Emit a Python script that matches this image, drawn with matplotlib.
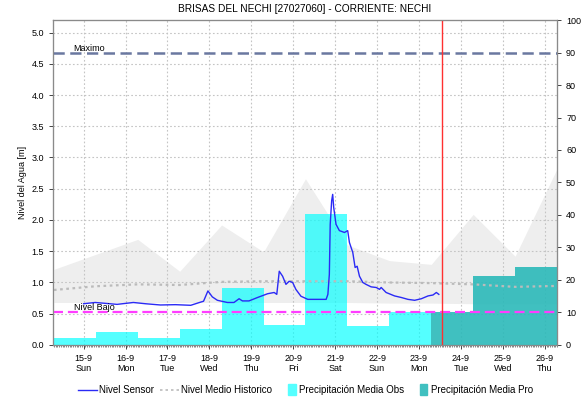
import matplotlib
matplotlib.use("Agg")
import matplotlib.pyplot as plt
import matplotlib.dates as mdates
from matplotlib.patches import Rectangle
from matplotlib.lines import Line2D
from matplotlib.legend_handler import HandlerPatch
import pandas as pd

plt.rcParams['font.family'] = ['Liberation Sans', 'DejaVu Sans']

title = "BRISAS DEL NECHI [27027060] - CORRIENTE: NECHI"

# Sensor water level (m)
sensor_time = [
    "2024-09-15 00:00", "2024-09-15 06:40", "2024-09-15 19:10", "2024-09-16 04:30",
    "2024-09-16 11:25", "2024-09-16 20:00", "2024-09-17 04:35", "2024-09-17 13:20",
    "2024-09-17 18:20", "2024-09-17 20:40", "2024-09-17 23:10", "2024-09-18 01:40",
    "2024-09-18 04:35", "2024-09-18 10:20", "2024-09-18 14:05", "2024-09-18 17:00",
    "2024-09-18 18:55", "2024-09-18 22:40", "2024-09-19 03:35", "2024-09-19 09:20",
    "2024-09-19 13:05", "2024-09-19 14:35", "2024-09-19 16:00", "2024-09-19 17:55",
    "2024-09-19 19:50", "2024-09-19 21:40", "2024-09-19 23:40", "2024-09-20 01:30",
    "2024-09-20 04:25", "2024-09-20 08:20", "2024-09-20 14:00", "2024-09-20 18:50",
    "2024-09-20 19:50", "2024-09-20 20:40", "2024-09-20 21:10", "2024-09-20 22:00",
    "2024-09-20 22:35", "2024-09-20 23:10", "2024-09-21 00:30", "2024-09-21 02:25",
    "2024-09-21 05:20", "2024-09-21 07:10", "2024-09-21 08:10", "2024-09-21 10:05",
    "2024-09-21 11:25", "2024-09-21 12:35", "2024-09-21 13:55", "2024-09-21 15:50",
    "2024-09-21 17:40", "2024-09-21 20:35", "2024-09-21 23:30", "2024-09-22 01:25",
    "2024-09-22 02:20", "2024-09-22 05:10", "2024-09-22 10:00", "2024-09-22 13:50",
    "2024-09-22 17:40", "2024-09-22 21:30", "2024-09-23 01:20", "2024-09-23 05:10",
    "2024-09-23 08:00", "2024-09-23 09:55", "2024-09-23 11:20",
]
sensor_level = [
    0.66, 0.68, 0.65, 0.68,
    0.66, 0.64, 0.645, 0.635,
    0.68, 0.70, 0.865, 0.77,
    0.715, 0.68, 0.68, 0.74,
    0.705, 0.705, 0.76, 0.82,
    0.84, 0.81, 1.18, 1.10,
    0.97, 1.02, 1.00, 0.89,
    0.78, 0.73, 0.73, 0.73,
    0.81, 1.13, 1.93, 2.31,
    2.41, 2.20, 1.93, 1.83,
    1.80, 1.83, 1.64, 1.48,
    1.24, 1.26, 1.10, 1.00,
    0.97, 0.93, 0.92, 0.89,
    0.92, 0.84, 0.785, 0.76,
    0.73, 0.715, 0.74, 0.785,
    0.80, 0.84, 0.81,
]

# Daily historical statistics (07:00 each day)
hist_time = pd.date_range("2024-09-14 07:00", "2024-09-26 07:00", freq="D")
hist_mean = [0.88, 0.94, 0.97, 0.96, 1.01, 1.02, 1.02, 1.02, 1.00, 0.99, 0.97, 0.93, 0.945]
hist_max = [1.21, 1.45, 1.69, 1.18, 1.92, 1.49, 2.66, 1.60, 1.35, 1.29, 2.09, 1.42, 2.82]
hist_min = [0.68, 0.68, 0.68, 0.68, 0.68, 0.68, 0.68, 0.68, 0.67, 0.67, 0.66, 0.66, 0.66]

# Daily precipitation (mm), observed and forecast, each day from 07:00
obs_start = pd.date_range("2024-09-13 07:00", periods=10, freq="D")
obs_precip = [11.0, 2.2, 4.0, 2.2, 4.9, 17.5, 6.2, 40.4, 5.9, 10.2]
pro_start = pd.date_range("2024-09-23 07:00", periods=3, freq="D")
pro_precip = [10.2, 21.2, 24.0]

nivel_maximo = 4.68
nivel_bajo = 0.533
now_time = pd.Timestamp("2024-09-23 13:00")

x_start = pd.Timestamp("2024-09-14 06:30")
x_end = pd.Timestamp("2024-09-26 07:00")
level_lim = (0, 5.2)

fig = plt.figure(figsize=(5.82, 4.01), dpi=100)
# back layer: historical band and grid (level scale)
axb = fig.add_axes([0.0911, 0.1397, 0.8660, 0.8104])
# middle layer: precipitation (right scale)
ax2 = axb.twinx()
# front layer: level lines and left ticks
ax = axb.twinx()
axb.set_zorder(0)
ax2.set_zorder(1)
ax.set_zorder(2)
ax2.patch.set_visible(False)
ax.patch.set_visible(False)

axb.fill_between(hist_time, hist_min, hist_max, color="#EEEEEE", linewidth=0)
axb.set_ylim(*level_lim)
axb.set_yticks([i * 0.5 for i in range(11)])
axb.grid(True, which="major", color="#C4C4C4", linestyle=(0, (1.5, 2.0)), lw=0.8)
axb.tick_params(axis="y", left=False, labelleft=False)

ax2.bar(obs_start, obs_precip, width=1.0, align="edge", color="#00FFFF", alpha=0.67,
        linewidth=0)
ax2.bar(pro_start, pro_precip, width=1.0, align="edge", color="#2BB9B9", alpha=0.9,
        linewidth=0)
ax2.set_ylim(0, 100)
ax2.set_yticks(range(0, 101, 10))
ax2.yaxis.tick_right()

ax.yaxis.tick_left()
ax.yaxis.set_label_position("left")
ax.plot(hist_time, hist_mean, color="#BBBBBB", linestyle=(0, (1.2, 1.6)), lw=1.6)
ax.plot(pd.to_datetime(sensor_time), sensor_level, color="#2A2AF5", lw=1.0)

ax.axhline(nivel_maximo, color="#6A78A0", lw=1.8, linestyle=(0, (4.5, 2.2)))
ax.axhline(nivel_bajo, color="#FF3DFF", lw=1.6, linestyle=(0, (4.5, 2.2)))
ax.axvline(now_time, color="#FF3030", lw=1.0)

ax.text(0.04, nivel_maximo - 0.01, "Maximo", transform=ax.get_yaxis_transform(),
        fontsize=6.5, va="bottom", ha="left")
ax.text(0.042, nivel_bajo - 0.01, "Nivel Bajo", transform=ax.get_yaxis_transform(),
        fontsize=6.5, va="bottom", ha="left")

ax.set_xlim(x_start, x_end)
ax.set_ylim(*level_lim)
ax.set_yticks([i * 0.5 for i in range(11)])
ax.yaxis.set_major_formatter(matplotlib.ticker.FormatStrFormatter("%.1f"))

axb.xaxis.set_major_locator(mdates.DayLocator())
axb.xaxis.set_minor_locator(mdates.HourLocator())


def day_label(x, pos=None):
    d = mdates.num2date(x)
    return f"{d.day}-{d.month}\n{d.strftime('%a')}"


axb.xaxis.set_major_formatter(matplotlib.ticker.FuncFormatter(day_label))

for a in (axb, ax, ax2):
    a.tick_params(labelsize=6.5, length=3, width=0.7, colors="#444444", labelcolor="black")
    a.tick_params(which="minor", length=1.5, width=0.5, colors="#555555")
    for s in a.spines.values():
        s.set_color("#8A8A8A")
        s.set_linewidth(0.8)
ax.set_ylabel("Nivel del Agua [m]", fontsize=6.5, labelpad=3)
axb.set_title(title, fontsize=7.3, pad=6)


def narrow_box(legend, orig_handle, xdescent, ydescent, width, height, fontsize):
    return Rectangle((width - 6 - xdescent, -ydescent - 1.5), 5.5, height + 3)


handles = [
    Line2D([], [], color="#2A2AF5", lw=1.0),
    Line2D([], [], color="#BBBBBB", lw=1.2, linestyle=(0, (1.5, 1.8))),
    Rectangle((0, 0), 1, 1, color="#55FFFF"),
    Rectangle((0, 0), 1, 1, color="#40C0C0"),
]
labels = ["Nivel Sensor", "Nivel Medio Historico", "Precipitación Media Obs",
          "Precipitación Media Pro"]
fig.legend(handles, labels, loc="center", bbox_to_anchor=(0.525, 0.027), ncol=4,
           frameon=False, fontsize=7, handlelength=1.9, handletextpad=0.25,
           columnspacing=0.6,
           handler_map={Rectangle: HandlerPatch(patch_func=narrow_box)})

fig.savefig("out.png", dpi=100)
